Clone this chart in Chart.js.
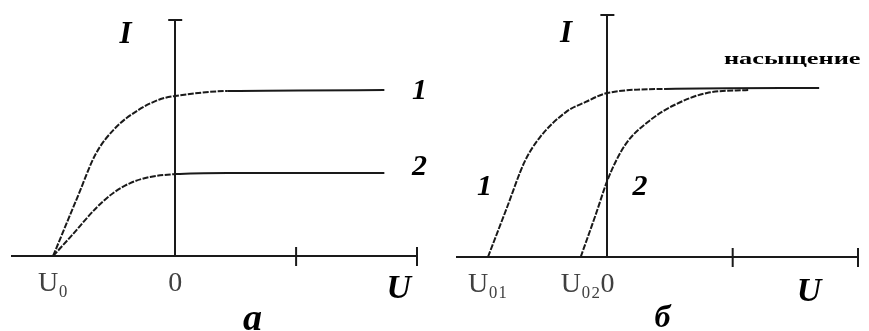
<!DOCTYPE html>
<html>
<head>
<meta charset="utf-8">
<script src="https://cdn.jsdelivr.net/npm/chart.js@4.4.1/dist/chart.umd.min.js"></script>
<style>
    html, body { margin: 0; padding: 0; background: #fff; }
    #wrap { position: relative; width: 869px; height: 331px; }
    #panelA { position: absolute; left: 0; top: 0; }
    #panelB { position: absolute; left: 435px; top: 0; }
</style>
</head>
<body>
<div id="wrap">
    <canvas id="panelA" width="435" height="331"></canvas>
    <canvas id="panelB" width="434" height="331"></canvas>
</div>
<script>
// ################ panel a : same U0, two saturation currents ################
const a_curve1_U = [-1.01, -0.80, -0.66, -0.50, -0.30, -0.12, 0, 0.43, 1.73];
const a_curve1_I = [0, 0.26, 0.43, 0.54, 0.62, 0.665, 0.678, 0.699, 0.703];
const a_curve2_U = [-1.01, -0.868, -0.645, -0.512, -0.372, -0.207, 0, 0.43, 1.73];
const a_curve2_I = [0, 0.08, 0.208, 0.267, 0.309, 0.335, 0.347, 0.352, 0.352];
const a_tickU = [-1.01, 0, 1, 2];
const a_tickText = ["U₀", "0", "", ""];

// ################ panel b : two stopping voltages, one saturation ################
const b_curve1_U = [-0.953, -0.803, -0.661, -0.543, -0.331, -0.173, 0, 0.46, 1.69];
const b_curve1_I = [0, 0.207, 0.403, 0.504, 0.614, 0.657, 0.695, 0.712, 0.716];
const b_curve2_U = [-0.213, -0.094, 0.008, 0.142, 0.323, 0.535, 0.795, 1.134];
const b_curve2_I = [0, 0.178, 0.335, 0.475, 0.572, 0.644, 0.695, 0.708];
const b_tickU = [-0.953, -0.213, 0, 1, 2];
const b_tickText = ["U₀₁", "U₀₂", "0", "", ""];

const INK = "#1a1a1a";
const SERIF = "'Liberation Serif', 'DejaVu Serif', serif";

function toPoints(us, is) {
    return us.map((u, i) => ({ x: u, y: is[i] }));
}

function curve(us, is) {
    return {
        data: toPoints(us, is),
        showLine: true,
        borderColor: INK,
        borderWidth: 2,
        pointRadius: 0,
        cubicInterpolationMode: "monotone",
        segment: {
            // the bent part of the curve looks dotted in the drawing
            borderDash: (c) =>
                Math.abs(c.p1.parsed.y - c.p0.parsed.y) > 0.01 ? [6, 1.5] : undefined,
        },
    };
}

// tick marks across the U axis, cap on the I axis, and the letters
const decorPlugin = {
    id: "decor",
    afterDraw(chart, args, opts) {
        const ctx = chart.ctx;
        const x = chart.scales.x;
        const y = chart.scales.y;
        const y0 = y.getPixelForValue(0);
        const x0 = x.getPixelForValue(0);
        ctx.save();
        ctx.strokeStyle = INK;
        ctx.lineWidth = 2;
        opts.marks.forEach((v) => {
            const px = x.getPixelForValue(v);
            ctx.beginPath();
            ctx.moveTo(px, y0 - 9);
            ctx.lineTo(px, y0 + 10);
            ctx.stroke();
        });
        const yTop = y.getPixelForValue(y.max);
        ctx.beginPath();
        ctx.moveTo(x0 - 7, yTop);
        ctx.lineTo(x0 + 7, yTop);
        ctx.stroke();

        ctx.fillStyle = "#000";
        ctx.textAlign = "center";
        ctx.textBaseline = "middle";
        opts.notes.forEach((n) => {
            ctx.font = "italic bold " + n.size + "px " + SERIF;
            ctx.fillText(n.text, x.getPixelForValue(n.u), y.getPixelForValue(n.i));
        });
        if (opts.caption) {
            const c = opts.caption;
            ctx.save();
            ctx.translate(x.getPixelForValue(c.u), y.getPixelForValue(c.i));
            ctx.scale(1.55, 1);
            ctx.textAlign = "left";
            ctx.font = "bold 17px " + SERIF;
            ctx.fillText(c.text, 0, 0);
            ctx.restore();
        }
        ctx.restore();
    },
};

function makePanel(id, datasets, xMin, xMax, yMax, tickU, tickText, pad, decor) {
    return new Chart(document.getElementById(id), {
        type: "scatter",
        data: { datasets: datasets },
        options: {
            responsive: false,
            animation: false,
            layout: { padding: pad },
            plugins: {
                legend: { display: false },
                tooltip: { enabled: false },
                decor: decor,
            },
            scales: {
                x: {
                    type: "linear",
                    min: xMin,
                    max: xMax,
                    position: { y: 0 },
                    afterFit: (s) => { s.height = 0; },
                    afterBuildTicks: (s) => { s.ticks = tickU.map((v) => ({ value: v })); },
                    grid: { display: false, drawTicks: false },
                    border: { display: true, color: INK, width: 2 },
                    ticks: {
                        autoSkip: false,
                        maxRotation: 0,
                        padding: 11,
                        color: "#404040",
                        font: { family: SERIF, size: 28 },
                        callback: (v, i) => tickText[i],
                    },
                },
                y: {
                    type: "linear",
                    min: 0,
                    max: yMax,
                    position: { x: 0 },
                    afterFit: (s) => { s.width = 0; },
                    grid: { display: false, drawTicks: false },
                    border: { display: true, color: INK, width: 2 },
                    ticks: { display: false },
                },
            },
        },
        plugins: [decorPlugin],
    });
}

document.addEventListener("DOMContentLoaded", function () {
    makePanel(
        "panelA",
        [curve(a_curve1_U, a_curve1_I), curve(a_curve2_U, a_curve2_I)],
        -1.35, 2, 1,
        a_tickU, a_tickText,
        { left: 12, right: 18, top: 20, bottom: 75 },
        {
            marks: [1, 2],
            notes: [
                { text: "I", u: -0.41, i: 0.935, size: 31 },
                { text: "1", u: 2.02, i: 0.70, size: 30 },
                { text: "2", u: 2.02, i: 0.375, size: 30 },
                { text: "U", u: 1.85, i: -0.14, size: 34 },
                { text: "а", u: 0.64, i: -0.27, size: 38 },
            ],
        }
    );

    makePanel(
        "panelB",
        [curve(b_curve1_U, b_curve1_I), curve(b_curve2_U, b_curve2_I)],
        -1.2, 2, 1.0254,
        b_tickU, b_tickText,
        { left: 22, right: 6, top: 15, bottom: 74 },
        {
            marks: [1, 2],
            notes: [
                { text: "I", u: -0.33, i: 0.945, size: 31 },
                { text: "1", u: -0.98, i: 0.295, size: 30 },
                { text: "2", u: 0.26, i: 0.295, size: 30 },
                { text: "U", u: 1.61, i: -0.15, size: 34 },
                { text: "б", u: 0.44, i: -0.26, size: 32 },
            ],
            caption: { text: "насыщение", u: 0.93, i: 0.835 },
        }
    );
});
</script>
</body>
</html>
